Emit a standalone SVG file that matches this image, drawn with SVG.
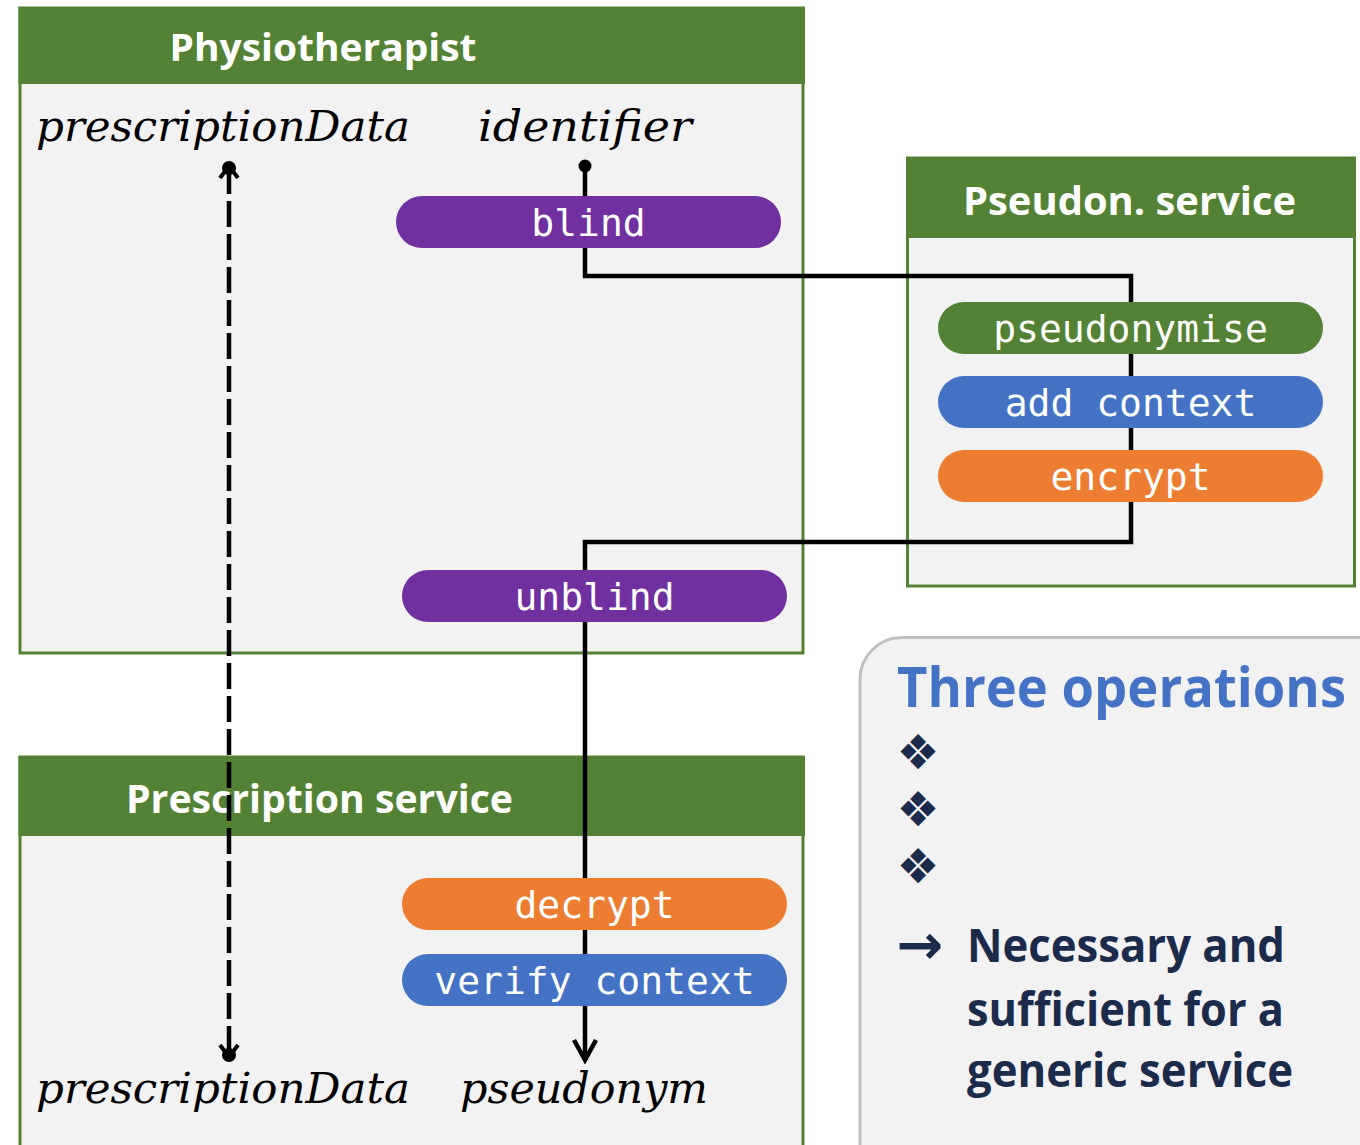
<svg xmlns="http://www.w3.org/2000/svg" width="1360" height="1145" viewBox="0 0 1360 1145">
  <defs>
    <style>
      .body { fill: #f2f2f2; stroke: #548235; stroke-width: 3; }
      .head { fill: #548235; }
      .title { font-family: "Open Sans", "Liberation Sans", sans-serif; font-weight: bold; fill: #ffffff; }
      .pill-text { font-family: "DejaVu Sans Mono", "Liberation Mono", monospace; font-size: 38px; fill: #ffffff; text-anchor: middle; }
      .var { font-family: "DejaVu Serif", "Liberation Serif", serif; font-style: italic; font-size: 42px; fill: #000000; }
      .wire { fill: none; stroke: #000000; stroke-width: 4.5; }
      .note { font-family: "Open Sans", "Liberation Sans", sans-serif; font-weight: bold; fill: #1b2b4b; }
      .bullet { font-family: "DejaVu Sans", sans-serif; font-size: 48px; fill: #1b2b4b; text-anchor: middle; }
    </style>
    <marker id="dotArrowStart" viewBox="-12 -12 24 24" markerWidth="24" markerHeight="24" refX="0" refY="0" orient="auto" markerUnits="userSpaceOnUse">
      <path d="M 10 -9 L -2 0 L 10 9" fill="none" stroke="#000" stroke-width="4"/>
      <circle cx="0" cy="0" r="7" fill="#000"/>
    </marker>
    <marker id="dotArrowEnd" viewBox="-12 -12 24 24" markerWidth="24" markerHeight="24" refX="0" refY="0" orient="auto" markerUnits="userSpaceOnUse">
      <path d="M -10 -9 L 2 0 L -10 9" fill="none" stroke="#000" stroke-width="4"/>
      <circle cx="0" cy="0" r="7" fill="#000"/>
    </marker>
    <marker id="openArrow" viewBox="-24 -14 28 28" markerWidth="28" markerHeight="28" refX="0" refY="0" orient="auto" markerUnits="userSpaceOnUse">
      <path d="M -20 -11 L 0 0 L -20 11" fill="none" stroke="#000" stroke-width="4.5"/>
    </marker>
    <marker id="dotStart" viewBox="-8 -8 16 16" markerWidth="16" markerHeight="16" refX="0" refY="0" markerUnits="userSpaceOnUse">
      <circle cx="0" cy="0" r="6.5" fill="#000"/>
    </marker>
  </defs>

  <rect x="0" y="0" width="1360" height="1145" fill="#ffffff"/>

  <!-- Physiotherapist -->
  <g id="physiotherapist">
    <rect class="body" x="20" y="8" width="783" height="645"/>
    <rect class="head" x="18.5" y="7" width="786.5" height="77"/>
    <text class="title" x="323" y="61" font-size="38" text-anchor="middle" textLength="307" lengthAdjust="spacingAndGlyphs">Physiotherapist</text>
    <text class="var" x="36" y="141" textLength="374" lengthAdjust="spacingAndGlyphs">prescriptionData</text>
    <text class="var" x="478" y="141" textLength="214" lengthAdjust="spacingAndGlyphs">identifier</text>
  </g>

  <!-- Pseudonymisation service -->
  <g id="pseudon-service">
    <rect class="body" x="907.5" y="158" width="447" height="428"/>
    <rect class="head" x="906" y="157" width="450" height="81"/>
    <text class="title" x="1129.5" y="215" font-size="40" text-anchor="middle" textLength="333" lengthAdjust="spacingAndGlyphs">Pseudon. service</text>
  </g>

  <!-- Prescription service -->
  <g id="prescription-service">
    <rect class="body" x="20" y="757" width="783" height="420"/>
    <rect class="head" x="18.5" y="756" width="786.5" height="80"/>
    <text class="title" x="319.5" y="813" font-size="39" text-anchor="middle" textLength="387" lengthAdjust="spacingAndGlyphs">Prescription service</text>
    <text class="var" x="36" y="1103" textLength="374" lengthAdjust="spacingAndGlyphs">prescriptionData</text>
    <text class="var" x="460" y="1103" textLength="248" lengthAdjust="spacingAndGlyphs">pseudonym</text>
  </g>

  <!-- Summary panel -->
  <g id="summary">
    <rect x="860" y="637.5" width="560" height="560" rx="42" fill="#f2f2f2" stroke="#bfbfbf" stroke-width="3"/>
    <text x="897" y="707" font-family="'Open Sans', 'Liberation Sans', sans-serif" font-weight="bold" font-size="55" fill="#4472c4" textLength="449" lengthAdjust="spacingAndGlyphs">Three operations</text>
    <text class="bullet" x="918" y="769">❖</text>
    <text class="bullet" x="918" y="826">❖</text>
    <text class="bullet" x="918" y="883">❖</text>
    <text x="920" y="964" font-family="'DejaVu Sans', sans-serif" font-weight="bold" font-size="56" fill="#1b2b4b" text-anchor="middle">→</text>
    <text class="note" x="967" y="962" font-size="47" textLength="318" lengthAdjust="spacingAndGlyphs">Necessary and</text>
    <text class="note" x="967" y="1026" font-size="47" textLength="317" lengthAdjust="spacingAndGlyphs">sufficient for a</text>
    <text class="note" x="967" y="1087" font-size="47" textLength="326" lengthAdjust="spacingAndGlyphs">generic service</text>
  </g>

  <!-- Connectors -->
  <g id="connectors">
    <path class="wire" d="M 585 166 V 276 H 1131 V 542 H 585 V 1060" marker-start="url(#dotStart)" marker-end="url(#openArrow)"/>
    <path class="wire" d="M 229 168 V 1055" stroke-dasharray="26 7" marker-start="url(#dotArrowStart)" marker-end="url(#dotArrowEnd)"/>
  </g>

  <!-- Operations -->
  <g id="op-blind">
    <rect x="396" y="196" width="385" height="52" rx="26" fill="#7030a0"/>
    <text class="pill-text" x="588.5" y="236">blind</text>
  </g>
  <g id="op-unblind">
    <rect x="402" y="570" width="385" height="52" rx="26" fill="#7030a0"/>
    <text class="pill-text" x="594.5" y="610">unblind</text>
  </g>
  <g id="op-pseudonymise">
    <rect x="938" y="302" width="385" height="52" rx="26" fill="#548235"/>
    <text class="pill-text" x="1130.5" y="342">pseudonymise</text>
  </g>
  <g id="op-add-context">
    <rect x="938" y="376" width="385" height="52" rx="26" fill="#4472c4"/>
    <text class="pill-text" x="1130.5" y="416">add context</text>
  </g>
  <g id="op-encrypt">
    <rect x="938" y="450" width="385" height="52" rx="26" fill="#ed7d31"/>
    <text class="pill-text" x="1130.5" y="490">encrypt</text>
  </g>
  <g id="op-decrypt">
    <rect x="402" y="878" width="385" height="52" rx="26" fill="#ed7d31"/>
    <text class="pill-text" x="594.5" y="918">decrypt</text>
  </g>
  <g id="op-verify-context">
    <rect x="402" y="954" width="385" height="52" rx="26" fill="#4472c4"/>
    <text class="pill-text" x="594.5" y="994">verify context</text>
  </g>
</svg>
